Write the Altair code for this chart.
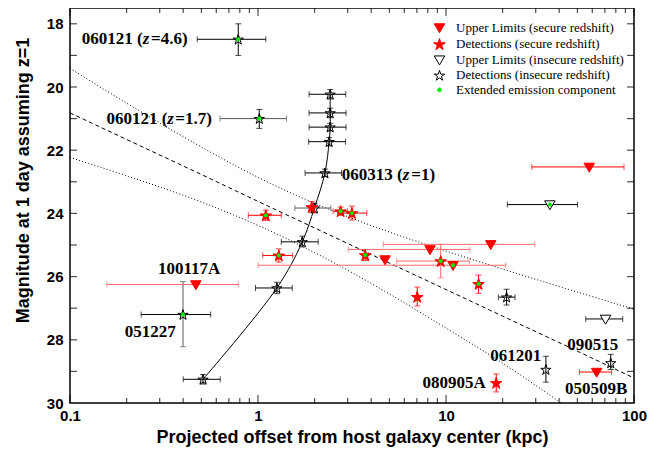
import altair as alt
import pandas as pd

# ---------------- data ----------------
CATS = ["Upper Limits (secure redshift)", "Detections (secure redshift)",
        "Upper Limits (insecure redshift)", "Detections (insecure redshift)",
        "Extended emission component"]

# Detections, insecure redshift (open stars)
dins_x = [0.785, 1.016, 2.42, 2.42, 2.42, 2.39, 2.27, 1.995, 1.72, 1.26, 0.51, 0.399, 21.0, 34.0, 75.2]
dins_y = [18.49, 21.00, 20.23, 20.82, 21.27, 21.73, 22.72, 23.83, 24.90, 26.36, 29.25, 27.20, 26.65, 28.94, 28.73]
# Detections, secure redshift (red stars)
dsec_x = [1.93, 1.10, 1.29, 2.75, 3.16, 3.72, 9.37, 14.9, 7.03, 18.5]
dsec_y = [23.80, 24.06, 25.33, 23.93, 23.99, 25.32, 25.51, 26.23, 26.64, 29.36]
# Upper limits, secure redshift (red triangles)
usec_x = [0.467, 4.74, 8.22, 17.3, 10.9, 57.8, 63.3]
usec_y = [26.25, 25.46, 25.14, 24.98, 25.64, 22.53, 29.02]
# Upper limits, insecure redshift (open triangles)
uins_x = [35.7, 70.6]
uins_y = [23.72, 27.34]
# Extended emission component (green dots)
ext_x = [0.785, 1.016, 0.399, 1.10, 1.29, 2.75, 3.16, 3.72, 9.37, 14.9, 10.9, 35.7]
ext_y = [18.49, 21.00, 27.20, 24.06, 25.33, 23.93, 23.99, 25.32, 25.51, 26.23, 25.64, 23.72]

# horizontal error bars (k black, g gray, r red, p light red)
xe_y  = [18.49, 21.00, 20.23, 20.82, 21.27, 21.73, 22.72, 23.83, 24.90, 26.36, 29.25, 27.20, 26.65,
         24.06, 25.33, 23.93, 23.99, 25.51, 26.25, 25.14, 24.98, 25.64, 22.53, 29.02, 23.72, 27.34]
xe_lo = [0.475, 0.628, 1.87, 1.87, 1.87, 1.86, 1.78, 1.57, 1.33, 0.97, 0.40, 0.239, 19.0,
         0.888, 1.06, 2.51, 2.85, 5.47, 0.157, 3.02, 4.64, 1.00, 28.6, 51.2, 21.2, 55.4]
xe_hi = [1.10, 1.42, 2.93, 2.94, 2.94, 2.92, 2.78, 2.44, 2.09, 1.52, 0.63, 0.56, 23.3,
         1.33, 1.53, 3.00, 3.79, 13.3, 0.786, 13.4, 29.7, 20.8, 88.5, 76.1, 50.1, 87.1]
xe_c  = ["k", "g", "k", "k", "k", "k", "k", "g", "k", "k", "k", "k", "k",
         "r", "r", "r", "r", "p", "p", "p", "p", "p", "r", "r", "k", "k"]

# vertical error bars
ye_x  = [0.785, 1.016, 2.42, 2.42, 2.42, 2.39, 2.27, 1.995, 1.72, 1.26, 0.51, 0.399, 21.0, 34.0, 75.2,
         1.93, 1.10, 1.29, 2.75, 3.16, 3.72, 9.37, 14.9, 7.03, 18.5]
ye_lo = [18.00, 20.71, 20.08, 20.67, 21.15, 21.60, 22.60, 23.68, 24.72, 26.18, 29.10, 26.16, 26.40, 28.52, 28.46,
         23.62, 23.90, 25.12, 23.80, 23.77, 25.15, 24.98, 25.95, 26.33, 29.08]
ye_hi = [19.00, 21.31, 20.38, 20.97, 21.39, 21.86, 22.84, 23.98, 25.06, 26.54, 29.40, 28.22, 26.90, 29.34, 28.94,
         23.98, 24.22, 25.54, 24.06, 24.21, 25.49, 26.04, 26.53, 26.93, 29.65]
ye_c  = ["k", "k", "k", "k", "k", "k", "k", "k", "k", "k", "k", "g", "k", "k", "k",
         "r", "r", "r", "r", "r", "r", "p", "r", "r", "r"]

# 060313 track (solid curve)
trk_x = [0.51, 1.26, 1.72, 1.995, 2.27, 2.39, 2.42, 2.42, 2.42]
trk_y = [29.25, 26.36, 24.90, 23.83, 22.72, 21.73, 21.27, 20.82, 20.23]

# fit (dashed) and band (dotted)
band_x  = [0.1, 0.2, 0.5, 1, 2, 5, 10, 20, 50, 100]
fit_y   = [20.82, 21.66, 22.77, 23.62, 24.46, 25.57, 26.41, 27.25, 28.36, 29.21]
upper_y = [19.41, 20.51, 21.90, 22.86, 23.68, 24.59, 25.19, 25.76, 26.49, 27.03]
lower_x = [0.1, 0.2, 0.5, 1, 2, 5, 10, 20, 41]
lower_y = [22.23, 22.81, 23.64, 24.38, 25.24, 26.55, 27.63, 28.74, 30.0]

# labels
lab_c_txt = ["100117A", "051227", "080905A", "061201", "090515", "050509B"]
lab_c_x = [0.43, 0.267, 11.06, 23.5, 60.3, 62.9]
lab_c_y = [25.77, 27.75, 29.36, 28.52, 28.15, 29.57]
zlab_a = ["060121 (", "060121 (", "060313 ("]
zlab_c = ["=4.6)", "=1.7)", "=1)"]
zlab_y = [18.49, 21.00, 22.77]
zlab_x0 = [0.2436, 0.3293, 5.886]
zlab_x1 = [0.2698, 0.3631, 6.537]

# axis tick values
xt_major = [0.1, 1, 10, 100]
xt_minor = [0.2, 0.3, 0.4, 0.5, 0.6, 0.7, 0.8, 0.9, 2, 3, 4, 5, 6, 7, 8, 9,
            20, 30, 40, 50, 60, 70, 80, 90]
yt_vals = [18, 19, 20, 21, 22, 23, 24, 25, 26, 27, 28, 29]

# ---------------- chart ----------------
W, H = 564, 395
XT = "Projected offset from host galaxy center (kpc)"
YT = "Magnitude at 1 day assuming z=1"
xscale = alt.Scale(type="log", domain=[0.1, 100], nice=False)
yscale = alt.Scale(domain=[17.5, 30], reverse=True, nice=False, zero=False)
xaxis = alt.Axis(values=xt_major, format="~g", labelFont="Liberation Sans", labelFontWeight="bold",
                 labelFontSize=15, labelColor="black", labelPadding=5, ticks=False, tickSize=0,
                 domain=False, grid=False, labelFlush=False, labelOverlap=False,
                 titleFont="Liberation Sans", titleFontSize=18, titleFontWeight="bold",
                 titleColor="black", titlePadding=5)
yaxis = alt.Axis(values=[18, 20, 22, 24, 26, 28, 30], labelFont="Liberation Sans", labelFontWeight="bold",
                 labelFontSize=15, labelColor="black", labelPadding=7, ticks=False, tickSize=0,
                 domain=False, grid=False, labelFlush=False, labelOverlap=False,
                 titleFont="Liberation Sans", titleFontSize=18, titleFontWeight="bold",
                 titleColor="black", titleX=-47, titleY=172, titleBaseline="middle", titleAlign="center")


def X(f):
    return alt.X(f, type="quantitative", scale=xscale, axis=xaxis, title=XT)


def Y(f):
    return alt.Y(f, type="quantitative", scale=yscale, axis=yaxis, title=YT)


def star(r):
    pts = [(0, -1), (0.225, -0.309), (0.951, -0.309), (0.363, 0.118), (0.588, 0.809), (0, 0.382),
           (-0.588, 0.809), (-0.363, 0.118), (-0.951, -0.309), (-0.225, -0.309)]
    return "M" + "L".join(f"{a * r:.3f},{(b + 0.095) * r:.3f}" for a, b in pts) + "Z"


TRI = "M-1.05,-0.75L1.05,-0.75L0,1.05Z"
DOT = "M0.38,0A0.38,0.38 0 1,1 -0.38,0A0.38,0.38 0 1,1 0.38,0Z"
LEG = alt.Legend(orient="none", legendX=363, legendY=13, title=None, labelFont="Liberation Serif",
                 labelFontSize=13, labelColor="black", rowPadding=0.6, labelOffset=10, padding=0,
                 symbolStrokeWidth=1, symbolSize=100, labelLimit=400)
enc_common = dict(
    fill=alt.Fill("cat:N", scale=alt.Scale(domain=CATS, range=["#ff0000", "#ff0000", "white", "transparent", "#00ee00"]), legend=LEG),
    stroke=alt.Stroke("cat:N", scale=alt.Scale(domain=CATS, range=["#ff0000", "#ff0000", "black", "black", "#00ee00"]), legend=LEG),
    shape=alt.Shape("cat:N", scale=alt.Scale(domain=CATS, range=[TRI, star(1.22), TRI, star(1.08), DOT]), legend=LEG),
)

pts = pd.concat([
    pd.DataFrame({"x": dins_x, "y": dins_y, "cat": CATS[3]}),
    pd.DataFrame({"x": dsec_x, "y": dsec_y, "cat": CATS[1]}),
    pd.DataFrame({"x": usec_x, "y": usec_y, "cat": CATS[0]}),
    pd.DataFrame({"x": uins_x, "y": uins_y, "cat": CATS[2]}),
], ignore_index=True)
ext = pd.DataFrame({"x": ext_x, "y": ext_y, "cat": CATS[4]})

COL = {"k": "#000000", "g": "#555555", "r": "#ff0000", "p": "#ff6a6a"}
xe = pd.DataFrame({"y": xe_y, "lo": xe_lo, "hi": xe_hi, "c": xe_c})
ye = pd.DataFrame({"x": ye_x, "lo": ye_lo, "hi": ye_hi, "c": ye_c})

layers = []
bands = pd.DataFrame({"x": band_x, "fit": fit_y, "up": upper_y})
low = pd.DataFrame({"x": lower_x, "lo": lower_y})
layers.append(alt.Chart(bands).mark_line(color="black", strokeWidth=1, strokeDash=[4, 3], interpolate="monotone").encode(x=X("x"), y=Y("fit")))
layers.append(alt.Chart(bands).mark_line(color="black", strokeWidth=1, strokeDash=[1, 2.2], interpolate="monotone").encode(x=X("x"), y=Y("up")))
layers.append(alt.Chart(low).mark_line(color="black", strokeWidth=1, strokeDash=[1, 2.2], interpolate="monotone").encode(x=X("x"), y=Y("lo")))
trk = pd.DataFrame({"x": trk_x, "y": trk_y, "i": list(range(len(trk_x)))})
layers.append(alt.Chart(trk).mark_line(color="black", strokeWidth=1, interpolate="catmull-rom").encode(x=X("x"), y=Y("y"), order="i:Q"))
for key, col in COL.items():
    dx = xe[xe.c == key]
    if len(dx):
        layers.append(alt.Chart(dx).mark_errorbar(ticks=True, size=6, thickness=1, color=col).encode(x=X("lo"), x2="hi", y=Y("y")))
    dy = ye[ye.c == key]
    if len(dy):
        layers.append(alt.Chart(dy).mark_errorbar(ticks=True, size=6, thickness=1, color=col).encode(x=X("x"), y=Y("lo"), y2="hi"))
layers.append(alt.Chart(pts).mark_point(opacity=1, fillOpacity=1, strokeWidth=1, size=100).encode(x=X("x"), y=Y("y"), **enc_common))
layers.append(alt.Chart(ext).mark_point(opacity=1, fillOpacity=1, strokeWidth=0.5, size=100).encode(x=X("x"), y=Y("y"), **enc_common))
TF = dict(font="Liberation Serif", fontWeight="bold", fontSize=17, color="black", baseline="middle")
labc = pd.DataFrame({"t": lab_c_txt, "x": lab_c_x, "y": lab_c_y})
layers.append(alt.Chart(labc).mark_text(align="center", **TF).encode(x=X("x"), y=Y("y"), text="t:N"))
zl = pd.DataFrame({"a": zlab_a, "c": zlab_c, "y": zlab_y, "x0": zlab_x0, "x1": zlab_x1, "z": ["z"] * 3})
layers.append(alt.Chart(zl).mark_text(align="right", **TF).encode(x=X("x0"), y=Y("y"), text="a:N"))
layers.append(alt.Chart(zl).mark_text(align="left", fontStyle="italic", **TF).encode(x=X("x0"), y=Y("y"), text="z:N"))
layers.append(alt.Chart(zl).mark_text(align="left", **TF).encode(x=X("x1"), y=Y("y"), text="c:N"))
for vals, L in ((xt_major, 8), (xt_minor, 5)):
    d = pd.DataFrame({"v": vals})
    for ypos in (L / 2, H - L / 2):
        layers.append(alt.Chart(d).mark_tick(orient="vertical", size=L, thickness=1.2, color="black").encode(x=X("v"), y=alt.value(ypos)))
dyt = pd.DataFrame({"v": yt_vals})
for xpos in (3.5, W - 3.5):
    layers.append(alt.Chart(dyt).mark_tick(orient="horizontal", size=7, thickness=1.2, color="black").encode(y=Y("v"), x=alt.value(xpos)))

chart = alt.layer(*layers).properties(
    width=W, height=H,
    padding={"left": 62, "top": 0, "right": 16, "bottom": 52},
    autosize=alt.AutoSizeParams(type="none"),
).configure_view(stroke="black", strokeWidth=1.5)

chart.save("out.html", embed_options={"renderer": "svg", "actions": False})
